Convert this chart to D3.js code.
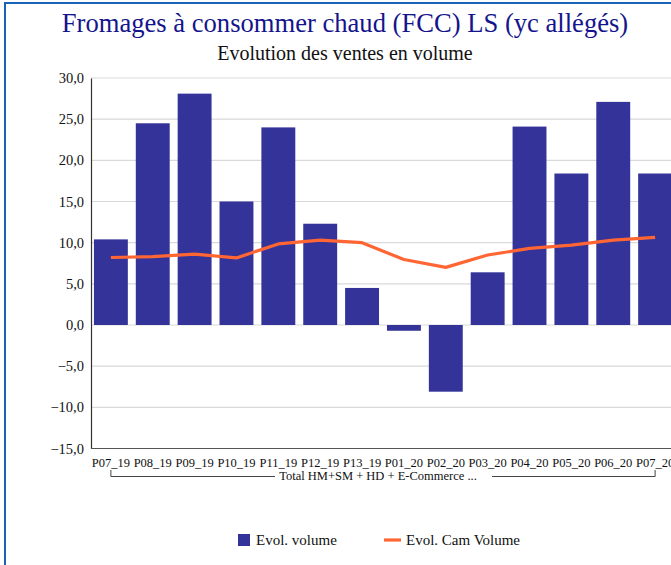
<!DOCTYPE html>
<html>
<head>
<meta charset="utf-8">
<script src="https://cdn.jsdelivr.net/npm/d3@7"></script>
<style>
  html, body { margin: 0; padding: 0; background: #fff; overflow: hidden; }
  svg { display: block; }
  text { font-family: "Liberation Serif", "Times New Roman", serif; }
</style>
</head>
<body>
<svg id="chart" width="671" height="565"></svg>
<script>
// Periods (P = 4-week periods)
const categories = ["P07_19","P08_19","P09_19","P10_19","P11_19","P12_19","P13_19",
                    "P01_20","P02_20","P03_20","P04_20","P05_20","P06_20","P07_20"];
// Evol. volume (%)
const evolVolume = [10.4, 24.5, 28.1, 15.0, 24.0, 12.3, 4.5, -0.7, -8.1, 6.4, 24.1, 18.4, 27.1, 18.4];
// Evol. Cam Volume (%)
const evolCamVolume = [8.2, 8.3, 8.6, 8.15, 9.85, 10.3, 10.0, 7.95, 7.0, 8.5, 9.3, 9.7, 10.3, 10.65];
const yTicks = [-15, -10, -5, 0, 5, 10, 15, 20, 25, 30];
const groupLabel = "Total HM+SM + HD + E-Commerce ...";
const title = "Fromages à consommer chaud (FCC) LS (yc allégés)";
const subtitle = "Evolution des ventes en volume";
const legendItems = ["Evol. volume", "Evol. Cam Volume"];

const barColor = "#333399";
const lineColor = "#ff6633";

const svg = d3.select("#chart");

// Frame
svg.append("rect")
  .attr("x", 5).attr("y", 3).attr("width", 700).attr("height", 600)
  .attr("fill", "none").attr("stroke", "#1a62b8").attr("stroke-width", 2);

svg.append("text")
  .attr("x", 345).attr("y", 32).attr("text-anchor", "middle")
  .attr("font-size", 26.6).attr("fill", "#14148c")
  .text(title);

svg.append("text")
  .attr("x", 345).attr("y", 60).attr("text-anchor", "middle")
  .attr("font-size", 20).attr("fill", "#111")
  .text(subtitle);

const x = d3.scaleBand().domain(categories).range([91, 675])
  .paddingInner(0.19).paddingOuter(0.07);
const y = d3.scaleLinear().domain([-15, 30]).range([448.5, 78]);

// Gridlines
svg.append("g").selectAll("line").data(yTicks.filter(d => d !== -15)).join("line")
  .attr("x1", 91).attr("x2", 700)
  .attr("y1", d => y(d)).attr("y2", d => y(d))
  .attr("stroke", "#d9d9d9").attr("stroke-width", 1.2);

// Y axis
const yAxis = d3.axisLeft(y).tickValues(yTicks)
  .tickFormat(d => d3.format(".1f")(d).replace(".", ","))
  .tickSize(0).tickPadding(7);
const gy = svg.append("g").attr("transform", "translate(91,0)").call(yAxis);
gy.select(".domain").attr("stroke", "#333").attr("stroke-width", 1.2);
gy.selectAll("text").attr("font-size", 14.5).attr("fill", "#111")
  .attr("font-family", "Liberation Serif, serif");

// X axis baseline
svg.append("line").attr("x1", 91).attr("x2", 700)
  .attr("y1", y(-15)).attr("y2", y(-15))
  .attr("stroke", "#555").attr("stroke-width", 1.2);

// Bars
svg.append("g").selectAll("rect").data(categories).join("rect")
  .attr("x", d => x(d))
  .attr("width", x.bandwidth())
  .attr("y", (d, i) => y(Math.max(0, evolVolume[i])))
  .attr("height", (d, i) => Math.abs(y(evolVolume[i]) - y(0)))
  .attr("fill", barColor);

// Rolling line
const line = d3.line()
  .x((d, i) => x(categories[i]) + x.bandwidth() / 2)
  .y(d => y(d));
svg.append("path").datum(evolCamVolume)
  .attr("d", line)
  .attr("fill", "none").attr("stroke", lineColor)
  .attr("stroke-width", 3.2).attr("stroke-linejoin", "round");

// Category labels
svg.append("g").selectAll("text").data(categories).join("text")
  .attr("x", d => x(d) + x.bandwidth() / 2)
  .attr("y", 467)
  .attr("text-anchor", "middle")
  .attr("font-size", 12.5).attr("fill", "#111")
  .text(d => d);

// Group bracket
const gx0 = x(categories[0]) + x.bandwidth() / 2;
const gx1 = x(categories[categories.length - 1]) + x.bandwidth() / 2;
const gMid = (gx0 + gx1) / 2 - 5;
svg.append("text")
  .attr("x", gMid).attr("y", 480).attr("text-anchor", "middle")
  .attr("font-size", 12.5).attr("fill", "#111")
  .text(groupLabel);
const bracket = d3.path();
bracket.moveTo(gx0, 470); bracket.lineTo(gx0, 476.5); bracket.lineTo(275, 476.5);
bracket.moveTo(492, 476.5); bracket.lineTo(gx1, 476.5); bracket.lineTo(gx1, 470);
svg.append("path").attr("d", bracket.toString())
  .attr("fill", "none").attr("stroke", "#444").attr("stroke-width", 1);

// Legend
const lg = svg.append("g");
lg.append("rect").attr("x", 238).attr("y", 534).attr("width", 12).attr("height", 12).attr("fill", barColor);
lg.append("text").attr("x", 256).attr("y", 545).attr("font-size", 15).attr("fill", "#111").text(legendItems[0]);
lg.append("line").attr("x1", 384).attr("x2", 401).attr("y1", 540).attr("y2", 540)
  .attr("stroke", lineColor).attr("stroke-width", 3.2);
lg.append("text").attr("x", 406).attr("y", 545).attr("font-size", 15).attr("fill", "#111").text(legendItems[1]);
</script>
</body>
</html>
